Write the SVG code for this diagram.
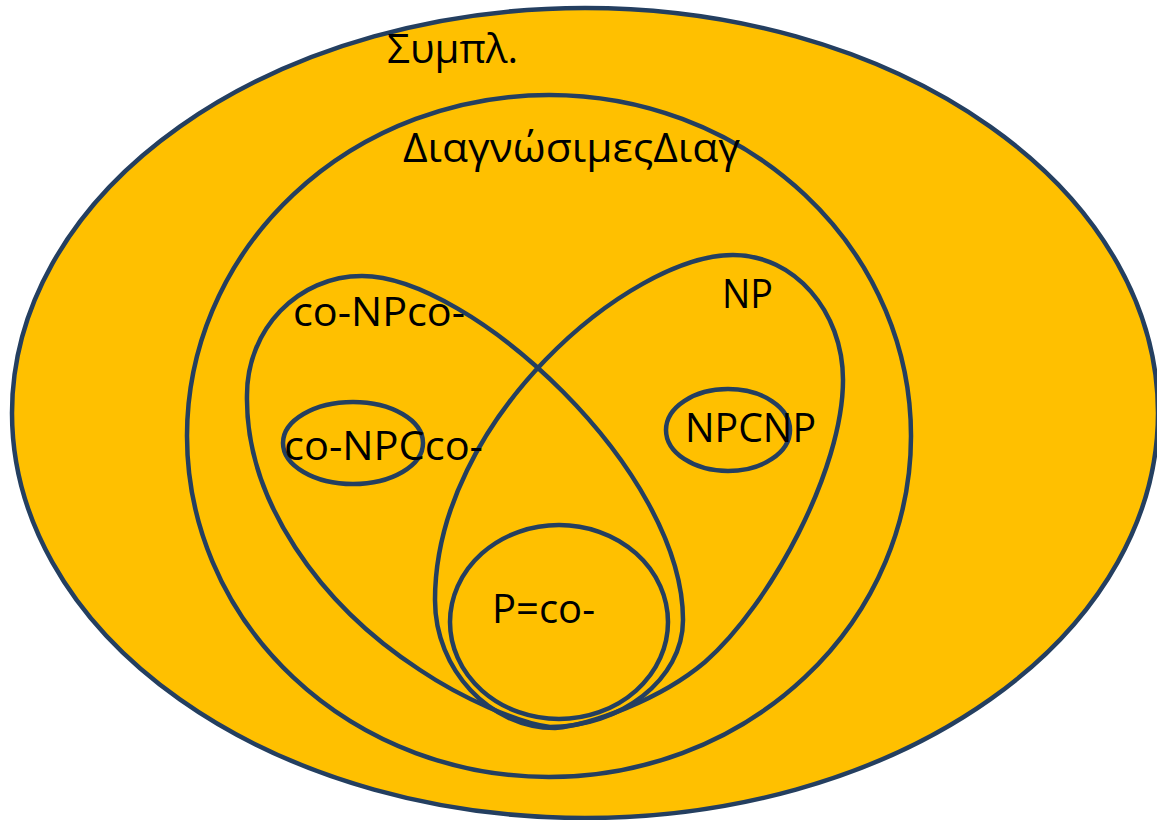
<svg xmlns="http://www.w3.org/2000/svg" width="1157" height="820" viewBox="0 0 1157 820">
<style>
.s{fill:none;stroke:#243F60;stroke-width:4.5}
.f{fill:#FFC000;stroke:#243F60;stroke-width:4.5}
.t{font-family:"Open Sans","Noto Sans","DejaVu Sans",sans-serif;font-size:41px;fill:#000}
</style>
<rect width="1157" height="820" fill="#fff"/>
<g id="complex">
<ellipse class="f" cx="585" cy="413" rx="573" ry="405"/>
<text class="t" x="387" y="63" textLength="131" lengthAdjust="spacingAndGlyphs">Συμπλ.</text>
</g>
<g id="decidable">
<ellipse class="f" cx="549" cy="436" rx="362" ry="341"/>
<text class="t" x="403" y="162" textLength="337" lengthAdjust="spacingAndGlyphs">ΔιαγνώσιμεςΔιαγ</text>
</g>
<g id="coNP">
<path class="s" d="M550,727 C520,724 460,697 420,670 C320,605 245,500 247,395 C247,329 298,276 362,276 C470,276 683,470 683,620 C683,680 620,727 550,727 Z"/>
<text class="t" x="293" y="326" textLength="172" lengthAdjust="spacingAndGlyphs">co-NPco-</text>
</g>
<g id="NP">
<path class="s" d="M555,728 C590,725 660,700 705,662 C770,605 843,470 843,380 C843,311 794,255 733,255 C630,255 435,420 435,600 C435,670 490,728 555,728 Z"/>
<text class="t" x="722" y="308" textLength="51" lengthAdjust="spacingAndGlyphs">NP</text>
</g>
<g id="coNPC">
<ellipse class="s" cx="353" cy="443" rx="70" ry="41"/>
<text class="t" x="284" y="460" textLength="199" lengthAdjust="spacingAndGlyphs">co-NPCco-</text>
</g>
<g id="NPC">
<ellipse class="s" cx="728" cy="430" rx="62" ry="41"/>
<text class="t" x="685" y="442" textLength="131" lengthAdjust="spacingAndGlyphs">NPCNP</text>
</g>
<g id="P">
<ellipse class="s" cx="559" cy="622" rx="109" ry="97"/>
<text class="t" x="492" y="623" textLength="103" lengthAdjust="spacingAndGlyphs">P=co-</text>
</g>
<g id="connectors"/>
</svg>
